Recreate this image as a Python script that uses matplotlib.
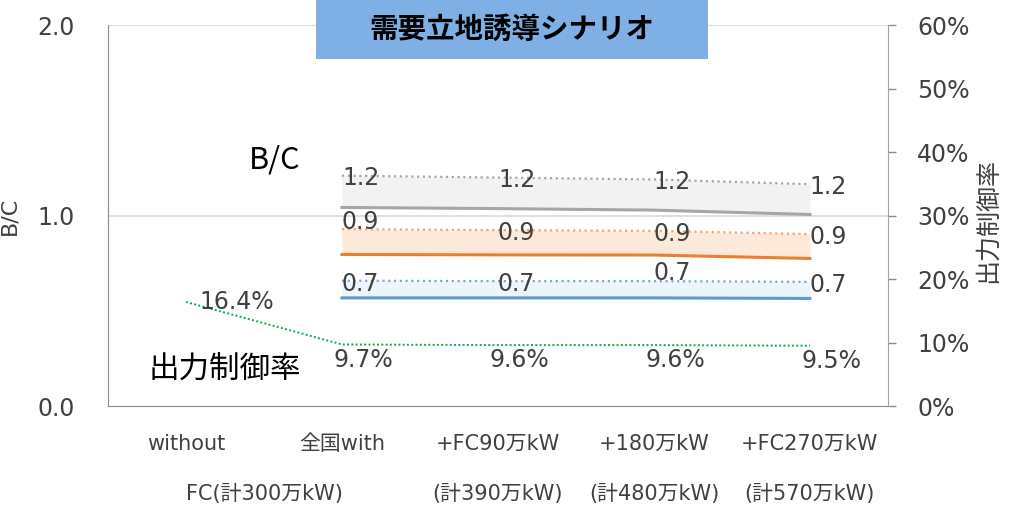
import matplotlib
matplotlib.use("Agg")
import matplotlib.pyplot as plt
import matplotlib.transforms as mtransforms
from matplotlib.patches import Rectangle

plt.rcParams['font.family'] = ['DejaVu Sans', 'Noto Sans CJK JP']

# ---- data ----
categories = ["without", "全国with", "+FC90万kW", "+180万kW", "+FC270万kW"]
sub_labels = ["FC(計300万kW)", "(計390万kW)", "(計480万kW)", "(計570万kW)"]
sub_label_pos = [0.5, 2, 3, 4]

bc_x = [1, 2, 3, 4]
gray_upper = [1.21, 1.20, 1.19, 1.165]
gray_lower = [1.043, 1.037, 1.029, 1.006]
orange_upper = [0.929, 0.924, 0.920, 0.903]
orange_lower = [0.796, 0.794, 0.793, 0.775]
blue_upper = [0.658, 0.656, 0.656, 0.652]
blue_lower = [0.568, 0.568, 0.568, 0.565]

curtail_x = [0, 1, 2, 3, 4]
curtail_rate = [0.164, 0.097, 0.096, 0.096, 0.095]

yticks_left = [0.0, 1.0, 2.0]
yticks_right = [0.0, 0.1, 0.2, 0.3, 0.4, 0.5, 0.6]

title = "需要立地誘導シナリオ"

# ---- figure ----
fig = plt.figure(figsize=(10.09, 5.05), dpi=100)
ax = fig.add_axes([0.107, 0.196, 0.773, 0.754])
ax2 = ax.twinx()

ax.set_xlim(-0.5, 4.5)
ax.set_ylim(0, 2.0)
ax2.set_ylim(0, 0.6)

txt_col = '#404040'

# B/C bands
series = [
    (gray_upper, gray_lower, '#A6A6A6', '#A6A6A6', '#F2F2F2'),
    (orange_upper, orange_lower, '#F4A46E', '#ED7D31', '#FDE9D9'),
    (blue_upper, blue_lower, '#74A9DA', '#5B9BD5', '#EEF4FB'),
]
for up, lo, dot_c, line_c, fill_c in series:
    ax.fill_between(bc_x, lo, up, color=fill_c, lw=0, zorder=1)
    ax.plot(bc_x, up, color=dot_c, lw=1.6, ls=(0, (1, 1.6)), zorder=3)
    ax.plot(bc_x, lo, color=line_c, lw=2.2, zorder=3)

# value labels on the dotted lines
nudges = {(1, 0): 5, (2, 2): 6}
for si, (up, _, _, _, _) in enumerate(series):
    for i, (x, v) in enumerate(zip(bc_x, up)):
        dy = nudges.get((si, i), -2)
        ax.annotate(f"{v:.1f}", (x, v), xytext=(0, dy), textcoords='offset points',
                    ha='left', va='center', fontsize=17, color=txt_col, zorder=5)

# curtailment rate line (right axis)
ax2.plot(curtail_x, curtail_rate, color='#00B050', lw=1.4, ls=(0, (1, 1.2)), zorder=3)
for i, (x, v) in enumerate(zip(curtail_x, curtail_rate)):
    if i == 0:
        off = (10, 0)
    else:
        off = (-6, -11)
    ax2.annotate(f"{v*100:.1f}%", (x, v), xytext=off, textcoords='offset points',
                 ha='left', va='center', fontsize=17, color=txt_col, zorder=5)

# grid and spines
ax.set_yticks(yticks_left)
ax.set_yticklabels([f"{t:.1f}" for t in yticks_left], fontsize=17, color=txt_col)
ax.tick_params(axis='y', length=0, pad=24)
for y in yticks_left[1:]:
    ax.axhline(y, color='#D9D9D9', lw=1.2, zorder=0)

ax.set_xticks(range(len(categories)))
ax.set_xticklabels(categories, fontsize=15, color=txt_col)
ax.tick_params(axis='x', length=0, pad=20)

ax.spines['top'].set_visible(False)
ax2.spines['top'].set_visible(False)
ax.spines['right'].set_visible(False)
ax.spines['left'].set_color('#8C8C8C')
ax.spines['bottom'].set_color('#8C8C8C')
ax2.spines['left'].set_visible(False)
ax2.spines['bottom'].set_visible(False)
ax2.spines['right'].set_color('#A6A6A6')

ax2.set_yticks(yticks_right)
ax2.set_yticklabels([f"{int(round(t*100))}%" for t in yticks_right], fontsize=17, color=txt_col)
ax2.tick_params(axis='y', length=6, width=1, color='#8C8C8C', pad=15)

# axis titles
ax.set_ylabel("B/C", fontsize=16, color=txt_col)
ax.yaxis.set_label_coords(-0.114, 0.5)
ax2.set_ylabel("出力制御率", fontsize=18, color=txt_col, family=['Noto Sans CJK JP'])
ax2.yaxis.set_label_coords(1.112, 0.488)

# in-plot series names
ax.text(0.57, 1.29, "B/C", fontsize=22, color='black', ha='center', va='center',
        family=['Noto Sans CJK JP'])
ax.text(0.25, 0.19, "出力制御率", fontsize=22, color='black', ha='center', va='center',
        family=['Noto Sans CJK JP'])

# second line of category labels
trans = mtransforms.blended_transform_factory(ax.transData, fig.transFigure)
for x, s in zip(sub_label_pos, sub_labels):
    ax.text(x, 0.022, s, transform=trans, ha='center', va='center', fontsize=15,
            color=txt_col, clip_on=False)

# title box
fig.patches.append(Rectangle((0.313, 0.883), 0.3885, 0.117, transform=fig.transFigure,
                             facecolor='#7FB0E5', edgecolor='none', zorder=0))
fig.text(0.507, 0.941, title, ha='center', va='center', fontsize=20.5, fontweight='bold',
         color='black', family=['Noto Sans CJK JP'])

fig.savefig("out.png", dpi=100)
